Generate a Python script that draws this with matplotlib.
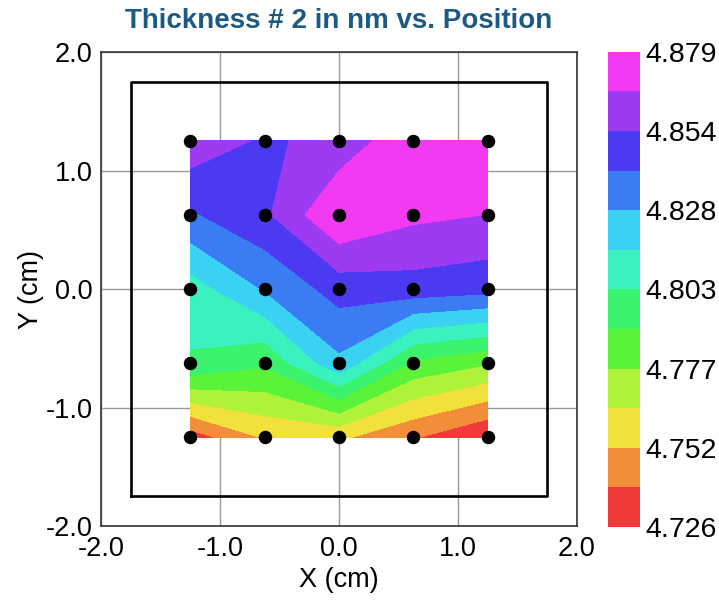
import numpy as np
import matplotlib
matplotlib.use("Agg")
import matplotlib.pyplot as plt

plt.rcParams['font.family'] = ['Liberation Sans', 'DejaVu Sans']

# measurement positions (cm)
x_pos = [-1.25, -0.625, 0.0, 0.625, 1.25]
y_pos = [-1.25, -0.625, 0.0, 0.625, 1.25]

# thickness (nm), one row per y position, bottom row first
row_m125 = [4.732, 4.753, 4.754, 4.740, 4.726]
row_m0625 = [4.801, 4.792, 4.825, 4.787, 4.778]
row_0 = [4.809, 4.829, 4.846, 4.848, 4.845]
row_p0625 = [4.839, 4.851, 4.879, 4.869, 4.866]
row_p125 = [4.862, 4.8515, 4.8576, 4.8767, 4.877]

z_min, z_max = 4.726, 4.879
cbar_labels = ["4.726", "4.752", "4.777", "4.803", "4.828", "4.854", "4.879"]

band_colors = ['#F23A3A', '#F28E3A', '#F2E13A', '#AFF23A', '#5BF23A', '#3AF26C',
               '#3AF2C0', '#3AD1F2', '#3A7DF2', '#4B3AF2', '#9E3AF2', '#F23AF2']

Z = np.array([row_m125, row_m0625, row_0, row_p0625, row_p125])
X, Y = np.meshgrid(x_pos, y_pos)
levels = np.linspace(z_min, z_max, len(band_colors) + 1)

fig = plt.figure(figsize=(7.19, 6.03), dpi=100)
ax = fig.add_axes([0.1405, 0.1277, 0.662, 0.786])
cax = fig.add_axes([0.8456, 0.126, 0.0445, 0.788])

cs = ax.contourf(X, Y, Z, levels=levels, colors=band_colors, zorder=2)
ax.scatter(X.ravel(), Y.ravel(), s=75, color='black', zorder=4)

# outline of the wafer area
ax.plot([-1.75, 1.75, 1.75, -1.75, -1.75], [-1.75, -1.75, 1.75, 1.75, -1.75],
        color='black', lw=1.9, zorder=3)

ax.set_xlim(-2, 2)
ax.set_ylim(-2, 2)
ax.set_xticks([-2, -1, 0, 1, 2])
ax.set_yticks([-2, -1, 0, 1, 2])
ax.set_xticklabels(["-2.0", "-1.0", "0.0", "1.0", "2.0"])
ax.set_yticklabels(["-2.0", "-1.0", "0.0", "1.0", "2.0"])
ax.tick_params(length=0, labelsize=19.5)
ax.tick_params(axis='x', pad=7)
ax.tick_params(axis='y', pad=6)
ax.grid(True, color='#999999', lw=1, zorder=0)
ax.set_axisbelow(True)
for sp in ax.spines.values():
    sp.set_color('#333333')
    sp.set_linewidth(1.2)

ax.set_xlabel("X (cm)", fontsize=19.5, labelpad=4)
ax.set_ylabel("Y (cm)", fontsize=19.5, labelpad=1)
ax.set_title("Thickness # 2 in nm vs. Position", fontsize=20, fontweight='bold',
             color='#1c5a86', pad=17)

cb = fig.colorbar(cs, cax=cax, ticks=levels[::2])
cb.ax.set_yticklabels(cbar_labels)
cb.ax.tick_params(length=0, labelsize=20.5, pad=4)
cb.outline.set_visible(False)

fig.savefig("out.png", dpi=100)
